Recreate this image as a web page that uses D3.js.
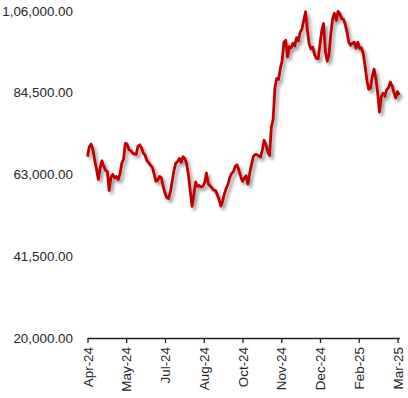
<!DOCTYPE html>
<html>
<head>
<meta charset="utf-8">
<script src="https://cdn.jsdelivr.net/npm/d3@7"></script>
<style>
  html, body { margin: 0; padding: 0; background: #fff; }
  svg { display: block; }
  .lbl { font-family: "Liberation Sans", Arial, sans-serif; font-size: 13.4px; fill: #262626; }
</style>
</head>
<body>
<div id="chart"></div>
<script>
'use strict';

// one closing value every two days, starting 15 Apr 2024
var startDate = new Date(2024, 3, 15);
var stepDays = 2;
var values = [
  67700, 70250, 71000, 69500, 66800, 64400, 61700, 64700, 66600, 65200,
  64100, 63800, 58800, 62200, 63000, 62100, 62500, 61700, 63000, 65900,
  67000, 71200, 71000, 69500, 69300, 68700, 68400, 68300, 70400, 70800,
  70000, 68600, 68000, 66600, 66100, 65400, 64900, 63000, 61200, 61500,
  62500, 62100, 59800, 58100, 56900, 56700, 58400, 61200, 64100, 66000,
  66400, 67200, 66200, 67700, 67200, 65800, 62900, 58800, 54600, 57600,
  61000, 59900, 60100, 59700, 59900, 60900, 63400, 60600, 60000, 59500,
  58900, 58800, 57700, 56400, 54700, 56000, 58000, 59400, 60500, 62300,
  63300, 63800, 65200, 65500, 64100, 62500, 61200, 62000, 62700, 60500,
  63300, 65600, 67700, 68300, 68200, 67900, 67600, 69400, 72000, 70800,
  69000, 68000, 75400, 77500, 85800, 88300, 88000, 90900, 92900, 97800,
  98300, 93900, 96600, 96300, 97500, 96800, 99000, 98100, 100400, 101300,
  103600, 105800, 100900, 97300, 96000, 96500, 94500, 93500, 93500, 97300,
  100900, 102700, 95200, 92800, 94500, 99900, 103900, 105400, 103500, 105900,
  105300, 104000, 103800, 102500, 100500, 97800, 97000, 97500, 97800, 96200,
  97800, 96200, 96300, 94800, 91500, 87900, 85400, 85700, 88800, 90700,
  88200, 84500, 79400, 83500, 84400, 83600, 85300, 85800, 87300, 86300,
  84600, 83100, 84800, 83900
];

var tickDates = ['2024-04-15', '2024-05-28', '2024-07-10', '2024-08-22', '2024-10-04',
  '2024-11-16', '2024-12-29', '2025-02-10', '2025-03-25'];
var yTicks = [20000, 41500, 63000, 84500, 106000];

var width = 408;
var height = 398;

var data = values.map(function (v, i) {
  return { date: d3.timeDay.offset(startDate, i * stepDays), value: v };
});

var parseDate = d3.timeParse('%Y-%m-%d');
var tickValues = tickDates.map(parseDate);

// Indian digit grouping, e.g. 1,06,000.00
var indianFormat = function (n) {
  var parts = n.toFixed(2).split('.');
  var intPart = parts[0];
  var last3 = intPart.slice(-3);
  var rest = intPart.slice(0, -3);
  if (rest) {
    rest = rest.replace(/\B(?=(\d{2})+(?!\d))/g, ',');
    last3 = rest + ',' + last3;
  }
  return last3 + '.' + parts[1];
};

var svg = d3.select('#chart').append('svg')
  .attr('width', width)
  .attr('height', height);

var defs = svg.append('defs');
defs.append('filter')
  .attr('id', 'shadow')
  .attr('x', '-10%').attr('y', '-10%')
  .attr('width', '130%').attr('height', '130%')
  .append('feDropShadow')
  .attr('dx', 2.5)
  .attr('dy', 3)
  .attr('stdDeviation', 1.8)
  .attr('flood-color', '#000')
  .attr('flood-opacity', 0.38);

var x = d3.scaleTime()
  .domain([startDate, data[data.length - 1].date])
  .range([87.5, 399.3]);

var y = d3.scaleLinear()
  .domain([20000, 106000])
  .range([338, 11]);

// y labels only, no axis line
svg.append('g')
  .selectAll('text')
  .data(yTicks)
  .enter()
  .append('text')
  .attr('class', 'lbl')
  .attr('x', 73)
  .attr('y', function (d) { return y(d); })
  .attr('dy', '0.35em')
  .attr('text-anchor', 'end')
  .text(indianFormat);

var xAxis = d3.axisBottom(x)
  .tickValues(tickValues)
  .tickSizeInner(5)
  .tickSizeOuter(0)
  .tickFormat(d3.timeFormat('%b-%y'));

var gx = svg.append('g')
  .attr('transform', 'translate(0,' + y(20000) + ')')
  .call(xAxis);

gx.select('.domain').attr('stroke', '#222').attr('stroke-width', 1.3);
gx.selectAll('.tick line').attr('stroke', '#222').attr('stroke-width', 1.3);
gx.selectAll('.tick text')
  .attr('class', 'lbl')
  .attr('font-family', null)
  .attr('font-size', null)
  .attr('fill', null)
  .attr('transform', 'rotate(-90)')
  .attr('text-anchor', 'end')
  .attr('x', -9)
  .attr('y', 0)
  .attr('dy', '0.35em');

var line = d3.line()
  .x(function (d) { return x(d.date); })
  .y(function (d) { return y(d.value); });

svg.append('path')
  .datum(data)
  .attr('d', line)
  .attr('fill', 'none')
  .attr('stroke', '#C00000')
  .attr('stroke-width', 2.8)
  .attr('stroke-linejoin', 'round')
  .attr('filter', 'url(#shadow)');
</script>
</body>
</html>
